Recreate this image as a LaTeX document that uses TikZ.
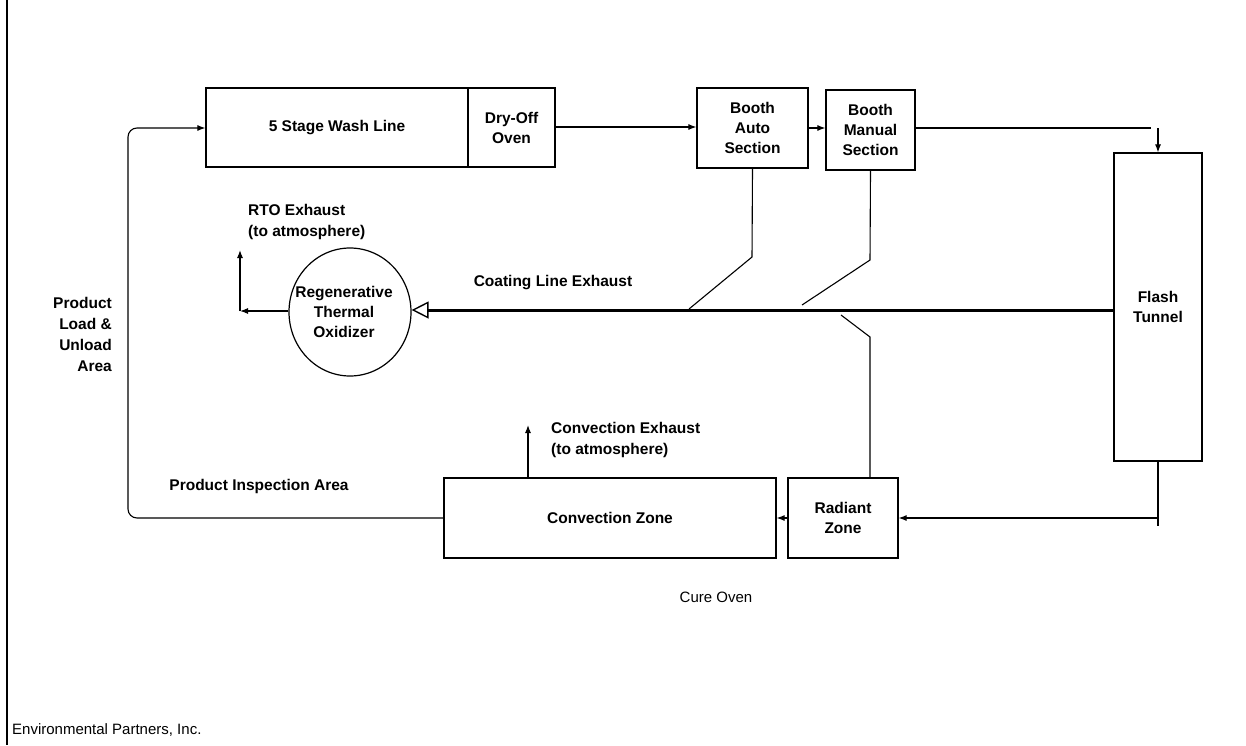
\documentclass[tikz,border=0pt]{standalone}
\usepackage{fontspec}
\setmainfont{Liberation Sans}
\usetikzlibrary{arrows.meta,shapes.geometric}
\begin{document}
\begin{tikzpicture}[x=1pt,y=-1pt,
  box/.style={draw,line width=1.2pt,rectangle,inner sep=0pt,align=center,font=\fontsize{15.5}{20}\selectfont\bfseries},
  lbl/.style={inner sep=0pt,font=\fontsize{15.5}{21}\selectfont\bfseries},
  plain/.style={inner sep=0pt,font=\fontsize{15}{18}\selectfont},
  flow/.style={line width=1.1pt,-{Latex[length=8pt,width=6pt]}},
  duct/.style={line width=1.1pt},
  thick line/.style={line width=3pt,-{Triangle[open,length=17pt,width=17pt,line width=1.4pt]}}
]
\useasboundingbox (0,0) rectangle (1246,745);
\fill[white] (0,0) rectangle (1246,745);
% left border
\coordinate (bt) at (7,0);
\coordinate (bb) at (7,745);
\draw[line width=1.5pt] (bt) -- (bb);
% boxes
\node[box,minimum width=262pt,minimum height=79pt] (wash) at (337,127.5) {5 Stage Wash Line};
\node[box,minimum width=87pt,minimum height=79pt] (dry) at (511.5,127.5) {Dry-Off\\Oven};
\node[box,minimum width=111pt,minimum height=80pt] (auto) at (752.5,128) {Booth\\Auto\\Section};
\node[box,minimum width=89pt,minimum height=80pt] (manual) at (870.5,130) {Booth\\Manual\\Section};
\node[box,minimum width=88pt,minimum height=308pt] (flash) at (1158,307) {Flash\\Tunnel};
\node[box,minimum width=332pt,minimum height=80pt] (conv) at (610,518) {Convection Zone};
\node[box,minimum width=110pt,minimum height=80pt] (rad) at (843,518) {Radiant\\Zone};
\node[draw,ellipse,line width=1.2pt,minimum width=122pt,minimum height=128pt,inner sep=0pt] (rto) at (350,312) {};
\node[lbl,align=center,font=\fontsize{15.5}{20}\selectfont\bfseries] (rtotxt) at (344,312) {Regenerative\\Thermal\\Oxidizer};
% labels
\node[lbl,align=left,anchor=west] (rtoex) at (248,222) {RTO Exhaust\\(to atmosphere)};
\node[lbl] (coat) at (553,283) {Coating Line Exhaust};
\node[lbl,align=left,anchor=west] (convex) at (551,440) {Convection Exhaust\\(to atmosphere)};
\node[lbl,align=right,anchor=east] (load) at (112,334) {Product\\Load \&\\Unload\\Area};
\node[lbl] (insp) at (259,486) {Product Inspection Area};
\node[plain] (cure) at (716,597) {Cure Oven};
\node[plain,anchor=west] (env) at (12,730) {Environmental Partners, Inc.};
% product loop
\coordinate (lb) at (128,518);
\coordinate (lt) at (128,128);
\draw[flow,rounded corners=9pt] (conv.west |- lb) -- (lb) -- (lt) -- (wash.west |- lt);
% main line
\draw[flow] (dry.east |- 0,127) -- (auto.west |- 0,127);
\draw[flow] (auto.east |- 0,128) -- (manual.west |- 0,128);
\coordinate (me) at (1151,128);
\coordinate (fa) at (1158,128);
\draw[duct] (manual.east |- me) -- (me);
\draw[flow] (fa) -- (flash.north);
% flash to radiant
\coordinate (fb) at (1158,526);
\coordinate (fj) at (1158,518);
\draw[duct] (flash.south) -- (fb);
\draw[flow] (fj) -- (rad.east |- fj);
\draw[flow] (rad.west |- fj) -- (conv.east |- fj);
% convection exhaust
\coordinate (ce) at (528,425);
\draw[flow] (conv.north -| ce) -- (ce);
% coating line exhaust
\coordinate (cl) at (1114,310);
\draw[thick line] (cl) -- (rto.east |- cl);
% RTO exhaust
\coordinate (rc) at (240,311);
\coordinate (rup) at (240,250);
\draw[flow] (rto.west |- rc) -- (rc);
\draw[flow] (rc) -- (rup);
% ducts
\coordinate (a1) at (752,257);
\coordinate (a2) at (689,309);
\draw[duct] (auto.south) -- (a1) -- (a2);
\coordinate (m1) at (870,260);
\coordinate (m2) at (802,305);
\draw[duct] (manual.south) -- (m1) -- (m2);
\coordinate (r0) at (841,315);
\coordinate (r1) at (870,337);
\draw[duct] (r0) -- (r1) -- (rad.north -| r1);
\end{tikzpicture}
\end{document}
